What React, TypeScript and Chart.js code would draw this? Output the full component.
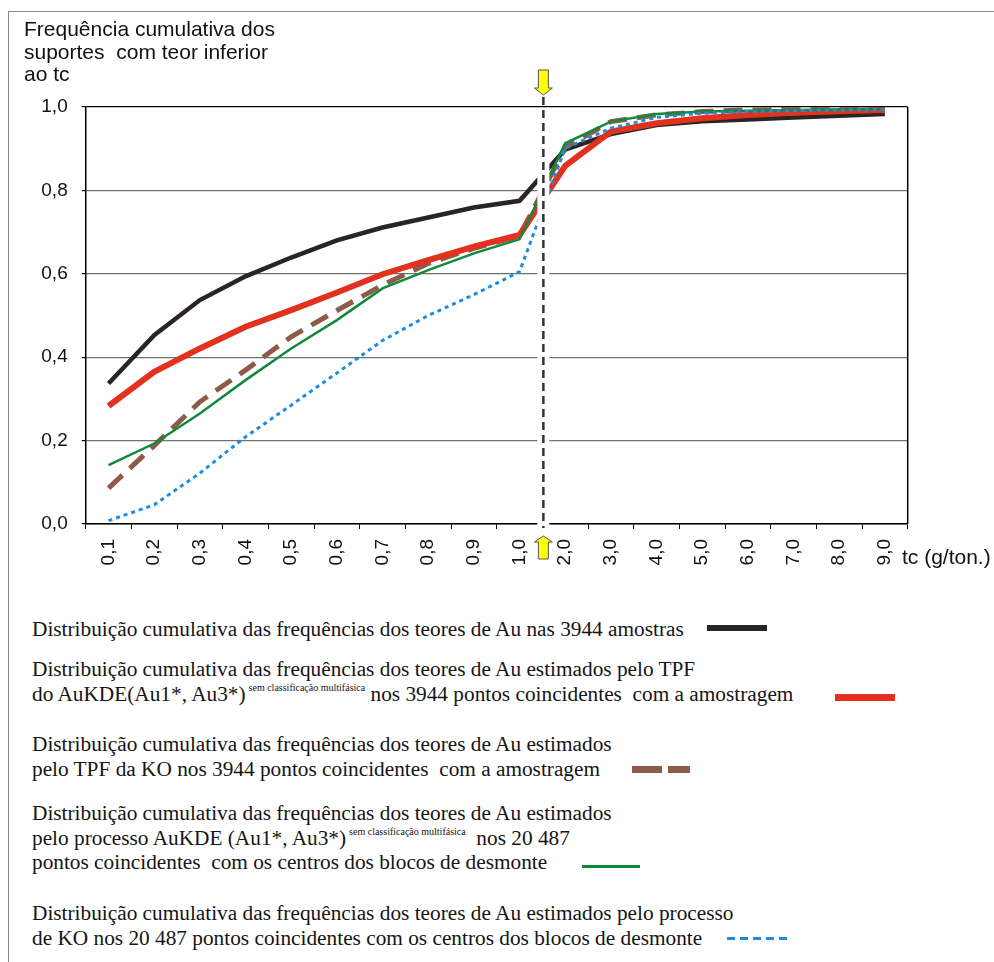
import React, { useEffect, useRef } from 'react';
import { Chart, registerables } from 'chart.js';

Chart.register(...registerables);

// ---- data ----
const categories = ['0,1', '0,2', '0,3', '0,4', '0,5', '0,6', '0,7', '0,8', '0,9', '1,0', '2,0', '3,0', '4,0', '5,0', '6,0', '7,0', '8,0', '9,0'];
const yTickLabels = ['0,0', '0,2', '0,4', '0,6', '0,8', '1,0'];

const amostras = [0.337, 0.453, 0.537, 0.594, 0.639, 0.680, 0.711, 0.735, 0.759, 0.775, 0.898, 0.935, 0.957, 0.966, 0.970, 0.975, 0.979, 0.983];
const tpfAuKDE = [0.283, 0.365, 0.421, 0.473, 0.513, 0.555, 0.599, 0.633, 0.665, 0.693, 0.859, 0.941, 0.961, 0.973, 0.981, 0.986, 0.990, 0.993];
const tpfKO = [0.086, 0.188, 0.293, 0.369, 0.449, 0.512, 0.573, 0.625, 0.661, 0.691, 0.903, 0.965, 0.981, 0.989, 0.993, 0.994, 0.995, 0.996];
const procAuKDE = [0.141, 0.193, 0.265, 0.345, 0.421, 0.489, 0.565, 0.609, 0.649, 0.683, 0.913, 0.965, 0.983, 0.989, 0.991, 0.993, 0.994, 0.995];
const procKO = [0.008, 0.046, 0.122, 0.209, 0.285, 0.362, 0.440, 0.500, 0.550, 0.605, 0.901, 0.949, 0.975, 0.985, 0.989, 0.991, 0.993, 0.994];

const cutoffIndex = 9; // line drawn between '1,0' and '2,0'

const COLORS = {
  black: '#2a2522',
  red: '#e2321f',
  brown: '#8d5b47',
  green: '#10893e',
  blue: '#1b8de0',
};

const cutoffPlugin = {
  id: 'cutoff',
  afterDatasetsDraw(chart: any) {
    const { ctx, chartArea, scales } = chart;
    const xs = scales.x;
    const xc = (xs.getPixelForValue(cutoffIndex) + xs.getPixelForValue(cutoffIndex + 1)) / 2 + 1;
    ctx.save();
    ctx.fillStyle = '#ffffff';
    ctx.fillRect(xc - 6, chartArea.top + 1, 12, chartArea.bottom - chartArea.top + 4);
    ctx.strokeStyle = '#000';
    ctx.lineWidth = 1.5;
    ctx.beginPath();
    ctx.moveTo(chartArea.right, chartArea.top);
    ctx.lineTo(chartArea.right, chartArea.bottom);
    ctx.stroke();
    ctx.strokeStyle = '#333';
    ctx.lineWidth = 2.5;
    ctx.setLineDash([8, 5]);
    ctx.beginPath();
    ctx.moveTo(xc, chartArea.top - 10);
    ctx.lineTo(xc, chartArea.bottom + 4);
    ctx.stroke();
    ctx.setLineDash([]);
    ctx.fillStyle = '#ffff00';
    ctx.strokeStyle = '#555';
    ctx.lineWidth = 1;
    const t = chartArea.top;
    ctx.beginPath();
    ctx.moveTo(xc - 5, t - 37);
    ctx.lineTo(xc + 5, t - 37);
    ctx.lineTo(xc + 5, t - 19);
    ctx.lineTo(xc + 9, t - 19);
    ctx.lineTo(xc, t - 12);
    ctx.lineTo(xc - 9, t - 19);
    ctx.lineTo(xc - 5, t - 19);
    ctx.closePath();
    ctx.fill();
    ctx.stroke();
    const b = chartArea.bottom;
    ctx.beginPath();
    ctx.moveTo(xc, b + 12);
    ctx.lineTo(xc + 9, b + 18);
    ctx.lineTo(xc + 5, b + 18);
    ctx.lineTo(xc + 5, b + 35);
    ctx.lineTo(xc - 5, b + 35);
    ctx.lineTo(xc - 5, b + 18);
    ctx.lineTo(xc - 9, b + 18);
    ctx.closePath();
    ctx.fill();
    ctx.stroke();
    ctx.restore();
  },
};

const legendFont: React.CSSProperties = {
  position: 'absolute',
  left: 32,
  fontFamily: '"Liberation Serif", "Times New Roman", serif',
  fontSize: 21.3,
  lineHeight: '24.5px',
  color: '#151515',
  whiteSpace: 'pre',
  margin: 0,
};

const supStyle: React.CSSProperties = {
  fontSize: 10,
  position: 'relative',
  top: -10,
  lineHeight: 0,
  marginLeft: 3,
};

export default function App() {
  const ref = useRef<HTMLCanvasElement>(null);

  useEffect(() => {
    const canvas = ref.current;
    if (!canvas) return;
    const tickFont = { family: '"Liberation Sans", Arial, sans-serif', size: 19 };
    const chart = new Chart(canvas, {
      type: 'line',
      data: {
        labels: categories,
        datasets: [
          { label: 'procKO', data: procKO, borderColor: COLORS.blue, borderWidth: 3, borderDash: [4, 4], pointRadius: 0, tension: 0, fill: false, order: 0 },
          { label: 'procAuKDE', data: procAuKDE, borderColor: COLORS.green, borderWidth: 2.5, pointRadius: 0, tension: 0, fill: false, order: 1 },
          { label: 'tpfAuKDE', data: tpfAuKDE, borderColor: COLORS.red, borderWidth: 6, pointRadius: 0, tension: 0, fill: false, order: 2 },
          { label: 'tpfKO', data: tpfKO, borderColor: COLORS.brown, borderWidth: 5, borderDash: [19, 10], pointRadius: 0, tension: 0, fill: false, order: 3 },
          { label: 'amostras', data: amostras, borderColor: COLORS.black, borderWidth: 4.5, pointRadius: 0, tension: 0, fill: false, order: 4 },
        ],
      },
      options: {
        responsive: false,
        animation: false,
        devicePixelRatio: 1,
        layout: { padding: { left: 0, top: 107, right: 86.3, bottom: 0 } },
        plugins: {
          legend: { display: false },
          tooltip: { enabled: false },
          title: { display: false },
        },
        scales: {
          x: {
            type: 'category',
            offset: true,
            grid: { offset: true, drawOnChartArea: false, drawTicks: true, tickLength: 5, color: '#000', lineWidth: 1 },
            border: { display: true, color: '#000', width: 1.5 },
            ticks: { minRotation: 90, maxRotation: 90, autoSkip: false, padding: 10, color: '#111', font: tickFont },
            afterFit: (s: any) => { s.height = 76; },
          },
          y: {
            min: 0,
            max: 1,
            ticks: {
              stepSize: 0.2,
              padding: 14,
              color: '#111',
              font: tickFont,
              callback: (_v: any, i: number) => yTickLabels[i],
            },
            grid: {
              color: (c: any) => (c.tick && c.tick.value >= 0.999 ? '#000' : '#707070'),
              lineWidth: 1.2,
              tickLength: 4,
              tickColor: '#000',
            },
            border: { display: true, color: '#000', width: 1.5 },
            afterFit: (s: any) => { s.width = 85.7; },
          },
        },
      },
      plugins: [cutoffPlugin],
    } as any);
    return () => chart.destroy();
  }, []);

  return (
    <div style={{ position: 'absolute', left: 0, top: 0, width: 994, height: 962, background: '#fff', overflow: 'hidden' }}>
      <div style={{ position: 'absolute', left: 8, top: 11, width: 1000, height: 1000, borderLeft: '1.5px solid #8a8a8a', borderTop: '1.5px solid #8a8a8a' }} />
      <canvas ref={ref} width={994} height={600} style={{ position: 'absolute', left: 0, top: 0, width: 994, height: 600 }} />
      <div style={{ position: 'absolute', left: 24, top: 18, fontFamily: '"Liberation Sans", Arial, sans-serif', fontSize: 21, lineHeight: '22.5px', color: '#111', whiteSpace: 'pre' }}>
        {'Frequência cumulativa dos\nsuportes  com teor inferior\nao tc'}
      </div>
      <div style={{ position: 'absolute', left: 902, top: 545, fontFamily: '"Liberation Sans", Arial, sans-serif', fontSize: 21, lineHeight: '24px', color: '#111', whiteSpace: 'pre' }}>
        tc (g/ton.)
      </div>

      <div style={{ ...legendFont, top: 617 }}>
        Distribuição cumulativa das frequências dos teores de Au nas 3944 amostras
      </div>
      <div style={{ position: 'absolute', left: 707, top: 625, width: 60, height: 6, background: COLORS.black }} />

      <div style={{ ...legendFont, top: 657 }}>
        {'Distribuição cumulativa das frequências dos teores de Au estimados pelo TPF\ndo AuKDE(Au1*, Au3*)'}
        <span style={supStyle}>sem classificação multifásica</span>
        {' nos 3944 pontos coincidentes  com a amostragem'}
      </div>
      <div style={{ position: 'absolute', left: 835, top: 693.5, width: 60, height: 7, background: COLORS.red }} />

      <div style={{ ...legendFont, top: 732 }}>
        {'Distribuição cumulativa das frequências dos teores de Au estimados\npelo TPF da KO nos 3944 pontos coincidentes  com a amostragem'}
      </div>
      <div style={{ position: 'absolute', left: 632, top: 765.5, width: 30, height: 7, background: COLORS.brown }} />
      <div style={{ position: 'absolute', left: 668, top: 765.5, width: 22, height: 7, background: COLORS.brown }} />

      <div style={{ ...legendFont, top: 801 }}>
        {'Distribuição cumulativa das frequências dos teores de Au estimados\npelo processo AuKDE (Au1*, Au3*)'}
        <span style={supStyle}>sem classificação multifásica</span>
        {'  nos 20 487\npontos coincidentes  com os centros dos blocos de desmonte'}
      </div>
      <div style={{ position: 'absolute', left: 582, top: 864.5, width: 58, height: 3.5, background: COLORS.green }} />

      <div style={{ ...legendFont, top: 901 }}>
        {'Distribuição cumulativa das frequências dos teores de Au estimados pelo processo\nde KO nos 20 487 pontos coincidentes com os centros dos blocos de desmonte'}
      </div>
      <div style={{ position: 'absolute', left: 727, top: 936.5, width: 60, height: 3.5, background: `repeating-linear-gradient(to right, ${COLORS.blue} 0px, ${COLORS.blue} 8px, transparent 8px, transparent 13px)` }} />
    </div>
  );
}
